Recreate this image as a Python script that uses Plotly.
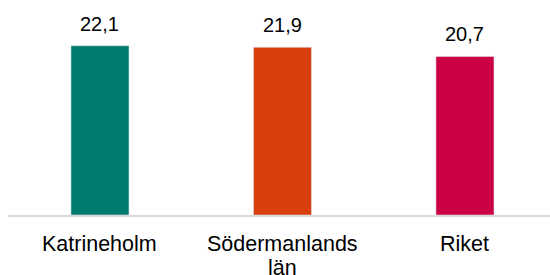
import plotly.graph_objects as go

categories = ["Katrineholm", "Södermanlands län", "Riket"]
category_lines = [["Katrineholm"], ["Södermanlands", "län"], ["Riket"]]
values = [22.1, 21.9, 20.7]
labels = ["22,1", "21,9", "20,7"]
colors = ["#007C6E", "#D83F0F", "#CC0045"]

FONT = "Liberation Sans, Arial, sans-serif"

fig = go.Figure()
fig.add_trace(go.Bar(
    x=categories, y=values, marker_color=colors, width=0.318,
    hoverinfo="skip",
))
for c, v, t in zip(categories, values, labels):
    fig.add_annotation(x=c, y=v, text=t, showarrow=False, yanchor="bottom",
                       yshift=9, font=dict(family=FONT, size=20, color="#000000"))
for c, lines in zip(categories, category_lines):
    for i, ln in enumerate(lines):
        fig.add_annotation(x=c, xref="x", y=0, yref="paper", text=ln,
                           showarrow=False, yanchor="top", yshift=-15 - 24 * i,
                           font=dict(family=FONT, size=21.5, color="#000000"))

fig.update_layout(
    width=550, height=275,
    margin=dict(l=8, r=0, t=0, b=60),
    paper_bgcolor="white", plot_bgcolor="white",
    showlegend=False,
    font=dict(family=FONT, size=20, color="#000000"),
    xaxis=dict(
        type="category", range=[-0.504, 2.466], automargin=False,
        showline=True, linecolor="#D9D9D9", linewidth=1.5,
        showgrid=False, zeroline=False, ticks="", showticklabels=False,
    ),
    yaxis=dict(range=[0, 28.07], visible=False, showgrid=False, zeroline=False,
               automargin=False),
)

fig.write_html("out.html", config={"displayModeBar": False},
               post_script="document.body.style.margin='0';document.body.style.overflow='hidden';")
